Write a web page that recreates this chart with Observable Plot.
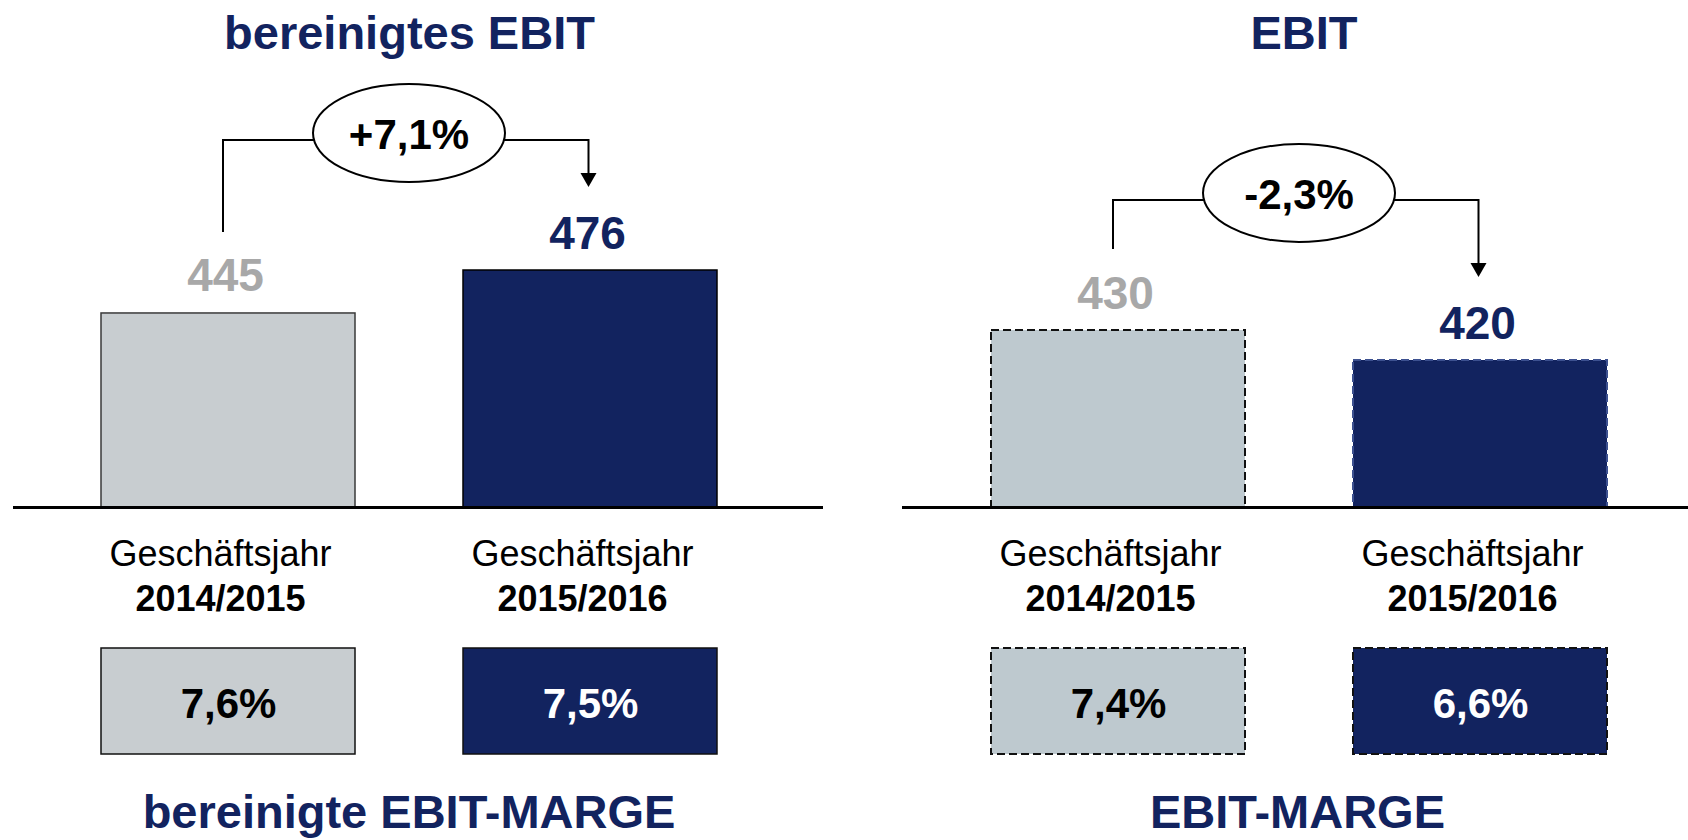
<!DOCTYPE html>
<html><head><meta charset="utf-8">
<script src="https://cdn.jsdelivr.net/npm/d3@7"></script>
<script src="https://cdn.jsdelivr.net/npm/@observablehq/plot@0.6"></script>
<style>
html,body{margin:0;padding:0;background:#fff;}
#root{position:relative;width:1688px;height:840px;overflow:hidden;font-family:"Liberation Sans",Arial,sans-serif;}
.panel{position:absolute;top:0;width:844px;height:840px;}
.panel svg{position:absolute;left:0;}
.title{position:absolute;z-index:2;transform:translateX(-50%);white-space:nowrap;font-size:47px;font-weight:bold;color:#12235f;line-height:1;}
</style></head><body><div id="root"></div>
<script>
// ---- data ----
const categories = ["2014/2015", "2015/2016"];
const categoryPrefix = "Geschäftsjahr";
const topTitles = ["bereinigtes EBIT", "EBIT"];
const bottomTitles = ["bereinigte EBIT-MARGE", "EBIT-MARGE"];
const adjustedEbit = [445, 476];
const reportedEbit = [430, 420];
const adjustedMargin = [7.6, 7.5];
const reportedMargin = [7.4, 6.6];
const changeLabels = ["+7,1%", "-2,3%"];

// ---- styles ----
const FONT = "Liberation Sans, Arial, sans-serif";
const NAVY = "#12235f";
const fmtPct = v => v.toFixed(1).replace(".", ",") + "%";

const panels = [
  {
    left: 0, title: topTitles[0], bottom: bottomTitles[0], values: adjustedEbit, margins: adjustedMargin,
    change: changeLabels[0], yDomain: [305, 476], yRange: [507, 270], xRange: [100.5, 718],
    ruleLeft: 13, ruleRight: 21, titleX: 409.5, bottomX: 409,
    barFill: ["#c8cdd0", NAVY], barStroke: ["#3a3a3a", "#000"], labelFill: ["#a8a8a8", NAVY],
    boxStroke: ["#111", "#111"], boxText: ["#000", "#fff"], dash: null, sw: 1.5
  },
  {
    left: 844, title: topTitles[1], bottom: bottomTitles[1], values: reportedEbit, margins: reportedMargin,
    change: changeLabels[1], yDomain: [371, 430], yRange: [507, 330], xRange: [146, 764],
    ruleLeft: 58, ruleRight: 0, titleX: 460, bottomX: 453.5,
    barFill: ["#bec9cf", NAVY], barStroke: ["#111", "#3d5190"], labelFill: ["#a8a8a8", NAVY],
    boxStroke: ["#111", "#111"], boxText: ["#000", "#fff"], dash: "8,4", sw: 2
  }
];

function connector(p) {
  return (index, scales) => {
    const {x, y} = scales;
    const bw = typeof x.bandwidth === "function" ? x.bandwidth() : (x.bandwidth || 0);
    const cA = x(categories[0]) + bw / 2, cB = x(categories[1]) + bw / 2;
    const xa = cA - 5, xb = cB - 1.5;
    const ya = y(p.values[0]) - 81;
    const yh = Math.min(y(p.values[0]), y(p.values[1])) - 130;
    const yt = y(p.values[1]) - 83;
    const g = d3.create("svg:g");
    g.append("path").attr("d", `M${xa},${ya}V${yh}H${xb}V${yt - 12}`)
      .attr("fill", "none").attr("stroke", "#000").attr("stroke-width", 2);
    g.append("path").attr("d", `M${xb - 8},${yt - 14}L${xb + 8},${yt - 14}L${xb},${yt}Z`).attr("fill", "#000");
    const ex = (cA + cB) / 2, ey = yh - 7;
    g.append("ellipse").attr("cx", ex).attr("cy", ey).attr("rx", 96).attr("ry", 49)
      .attr("fill", "#fff").attr("stroke", "#000").attr("stroke-width", 2);
    g.append("text").attr("x", ex).attr("y", yh + 9).attr("text-anchor", "middle")
      .attr("font-size", 42).attr("font-weight", "bold").attr("font-family", FONT).attr("fill", "#000")
      .text(p.change);
    return g.node();
  };
}

const root = document.getElementById("root");

for (const p of panels) {
  const rows = categories.map((c, i) => ({
    cat: c, value: p.values[i], margin: p.margins[i], base: p.yDomain[0],
    fill: p.barFill[i], stroke: p.barStroke[i], label: p.labelFill[i],
    boxStroke: p.boxStroke[i], boxText: p.boxText[i]
  }));

  const panel = document.createElement("div");
  panel.className = "panel";
  panel.style.left = p.left + "px";
  root.appendChild(panel);

  const bars = Plot.plot({
    width: 844, height: 630,
    marginLeft: p.ruleLeft, marginRight: p.ruleRight, marginTop: 0, marginBottom: 123,
    style: {fontFamily: FONT, background: "transparent", overflow: "visible"},
    x: {type: "band", domain: categories, range: p.xRange, paddingInner: 0.297, paddingOuter: 0, axis: null},
    y: {domain: p.yDomain, range: p.yRange, axis: null},
    color: {type: "identity"},
    marks: [
      Plot.barY(rows, {x: "cat", y1: "base", y2: "value", fill: "fill", stroke: "stroke",
        strokeWidth: p.sw, strokeDasharray: p.dash}),
      Plot.ruleY([p.yDomain[0]], {stroke: "#000", strokeWidth: 3}),
      Plot.text(rows, {x: "cat", y: "value", text: d => String(d.value), fill: "label",
        lineAnchor: "bottom", dy: -22, dx: -3, fontSize: 46, fontWeight: "bold"}),
      Plot.text(rows, {x: "cat", text: () => categoryPrefix, frameAnchor: "bottom", lineAnchor: "bottom",
        dy: 58.5, dx: -8, fontSize: 36, fill: "#000"}),
      Plot.text(rows, {x: "cat", text: "cat", frameAnchor: "bottom", lineAnchor: "bottom",
        dy: 103.5, dx: -8, fontSize: 36, fontWeight: "bold", fill: "#000"}),
      connector(p)
    ]
  });
  bars.style.top = "0px";
  panel.appendChild(bars);

  const boxes = Plot.plot({
    width: 844, height: 112, marginTop: 3, marginBottom: 3, marginLeft: 0, marginRight: 0,
    style: {fontFamily: FONT, background: "transparent", overflow: "visible"},
    x: {type: "band", domain: categories, range: p.xRange, paddingInner: 0.297, paddingOuter: 0, axis: null},
    color: {type: "identity"},
    marks: [
      Plot.cell(rows, {x: "cat", fill: "fill", stroke: "boxStroke", strokeWidth: p.sw, strokeDasharray: p.dash}),
      Plot.text(rows, {x: "cat", text: d => fmtPct(d.margin), fill: "boxText", frameAnchor: "middle",
        lineAnchor: "bottom", dy: 16, fontSize: 42, fontWeight: "bold"})
    ]
  });
  boxes.style.top = "645px";
  panel.appendChild(boxes);

  const t = document.createElement("div");
  t.className = "title"; t.textContent = p.title;
  t.style.left = p.titleX + "px"; t.style.top = "9px";
  panel.appendChild(t);

  const b = document.createElement("div");
  b.className = "title"; b.textContent = p.bottom;
  b.style.left = p.bottomX + "px"; b.style.top = "788px";
  panel.appendChild(b);
}
</script></body></html>
